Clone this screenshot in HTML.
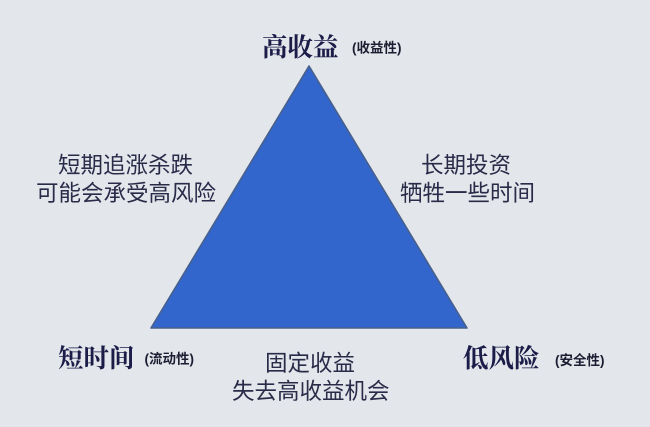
<!DOCTYPE html>
<html lang="zh">
<head>
<meta charset="utf-8">
<style>
html,body{margin:0;padding:0;width:650px;height:427px;overflow:hidden;background:#e3e6ea}
svg{display:block}
text{font-family:"Liberation Sans","Noto Sans CJK SC",sans-serif}
.h{font-family:"Liberation Serif","Noto Serif CJK SC",serif;font-size:25.5px;font-weight:700;fill:#1c1c48}
.s{font-size:13.5px;font-weight:700;fill:#1e1e30}
.t{font-size:22.5px;fill:#2a2a48}
</style>
</head>
<body>
<svg width="650" height="427" viewBox="0 0 650 427" xmlns="http://www.w3.org/2000/svg">
<defs><filter id="b" x="-5%" y="-5%" width="110%" height="110%"><feGaussianBlur stdDeviation="0.35"/></filter></defs>
<rect width="650" height="427" fill="#e3e6ea"/>
<g filter="url(#b)">
<polygon points="309,66 467,328 151,328" fill="#3366cc" stroke="#47608c" stroke-width="1.6" stroke-linejoin="round"/>
<text class="h" x="262" y="56">高收益</text>
<text class="s" x="352" y="52.5">(收益性)</text>
<text class="h" x="58" y="367">短时间</text>
<text class="s" x="144.5" y="363.5">(流动性)</text>
<text class="h" x="463" y="367">低风险</text>
<text class="s" x="555" y="365">(安全性)</text>
<text class="t" x="58" y="173">短期追涨杀跌</text>
<text class="t" x="36" y="201">可能会承受高风险</text>
<text class="t" x="421" y="173">长期投资</text>
<text class="t" x="400" y="201">牺牲一些时间</text>
<text class="t" x="265" y="371">固定收益</text>
<text class="t" x="232" y="399">失去高收益机会</text>
</g>
</svg>
</body>
</html>
